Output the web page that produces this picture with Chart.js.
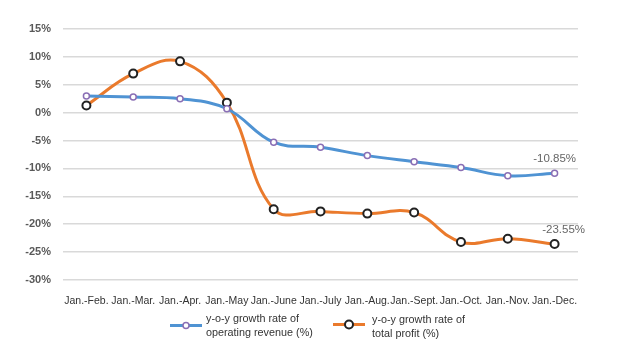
<!DOCTYPE html>
<html><head><meta charset="utf-8">
<script src="https://cdn.jsdelivr.net/npm/chart.js@4.4.0/dist/chart.umd.min.js"></script>
<style>html,body{margin:0;padding:0;background:#fff}#wrap{width:620px;height:356px;position:relative}</style>
</head><body><div id="wrap"><canvas id="c" width="620" height="356"></canvas></div>
<script>
const categories = ["Jan.-Feb.","Jan.-Mar.","Jan.-Apr.","Jan.-May","Jan.-June","Jan.-July","Jan.-Aug.","Jan.-Sept.","Jan.-Oct.","Jan.-Nov.","Jan.-Dec."];
const revenueGrowth = [3.0, 2.8, 2.5, 0.7, -5.3, -6.2, -7.7, -8.8, -9.85, -11.3, -10.85];
const profitGrowth = [1.3, 7.0, 9.2, 1.8, -17.3, -17.7, -18.1, -17.9, -23.2, -22.6, -23.55];
const seriesNames = [["y-o-y growth rate of","operating revenue (%)"],["y-o-y growth rate of","total profit (%)"]];
const yTicks = [15,10,5,0,-5,-10,-15,-20,-25,-30];

const lastLabel = {
  id:'lastLabel',
  afterDatasetsDraw(chart){
    const ctx = chart.ctx;
    ctx.save();
    ctx.font = '11.5px "Liberation Sans", Arial, sans-serif';
    ctx.fillStyle = '#666';
    ctx.textAlign = 'center';
    ctx.textBaseline = 'middle';
    const offs = [[0,-14],[9,-14]];
    chart.data.datasets.forEach((ds,i)=>{
      const meta = chart.getDatasetMeta(i);
      const n = ds.data.length-1;
      const p = meta.data[n];
      ctx.fillText(ds.data[n].toFixed(2)+'%', p.x+offs[i][0], p.y+offs[i][1]);
    });
    ctx.restore();
  }
};
const customLegend = {
  id:'customLegend',
  afterDraw(chart){
    const ctx = chart.ctx;
    const items = [{x:170,y:325.5,tx:206,ty:[319,333]},{x:333,y:324.5,tx:372,ty:[320,334]}];
    ctx.save();
    chart.data.datasets.forEach((ds,i)=>{
      const it = items[i];
      ctx.strokeStyle = ds.borderColor; ctx.lineWidth = 3;
      ctx.beginPath(); ctx.moveTo(it.x,it.y); ctx.lineTo(it.x+32,it.y); ctx.stroke();
      ctx.beginPath(); ctx.arc(it.x+16,it.y,ds.pointRadius,0,Math.PI*2);
      ctx.fillStyle='#fff'; ctx.fill();
      ctx.strokeStyle = ds.pointBorderColor; ctx.lineWidth = ds.pointBorderWidth; ctx.stroke();
      ctx.font = '10.8px "Liberation Sans", Arial, sans-serif';
      ctx.fillStyle = '#333'; ctx.textAlign='left'; ctx.textBaseline='middle';
      seriesNames[i].forEach((t,j)=>ctx.fillText(t,it.tx,it.ty[j]));
    });
    ctx.restore();
  }
};

new Chart(document.getElementById('c'), {
  type:'line',
  data:{
    labels:categories,
    datasets:[
      {label:seriesNames[0].join(' '),data:revenueGrowth,borderColor:'#4f93d3',borderWidth:3,tension:0.4,
       pointRadius:3,pointBorderWidth:1.5,pointBorderColor:'#8a6fb5',pointBackgroundColor:'#fff'},
      {label:seriesNames[1].join(' '),data:profitGrowth,borderColor:'#ea7a2c',borderWidth:3,tension:0.4,
       pointRadius:4,pointBorderWidth:2,pointBorderColor:'#222',pointBackgroundColor:'#fff'}
    ]
  },
  options:{
    responsive:false,animation:false,
    layout:{padding:{top:29,right:42,left:0,bottom:0}},
    plugins:{legend:{display:false},tooltip:{enabled:false}},
    scales:{
      x:{offset:true,grid:{display:false,drawTicks:false},border:{display:false},
         ticks:{autoSkip:false,maxRotation:0,minRotation:0,padding:15,color:'#333',font:{family:'"Liberation Sans", Arial, sans-serif',size:10.5}},
         afterFit(s){s.height=76;}},
      y:{min:-30,max:15,grid:{color:'#d9d9d9',lineWidth:1.5,drawTicks:false},border:{display:false},
         afterBuildTicks(s){s.ticks=yTicks.map(v=>({value:v}));},
         ticks:{padding:12,color:'#595959',font:{family:'"Liberation Sans", Arial, sans-serif',size:11,weight:'bold'},callback:v=>v+'%'},
         afterFit(s){s.width=63;}}
    }
  },
  plugins:[lastLabel,customLegend]
});
</script></body></html>
